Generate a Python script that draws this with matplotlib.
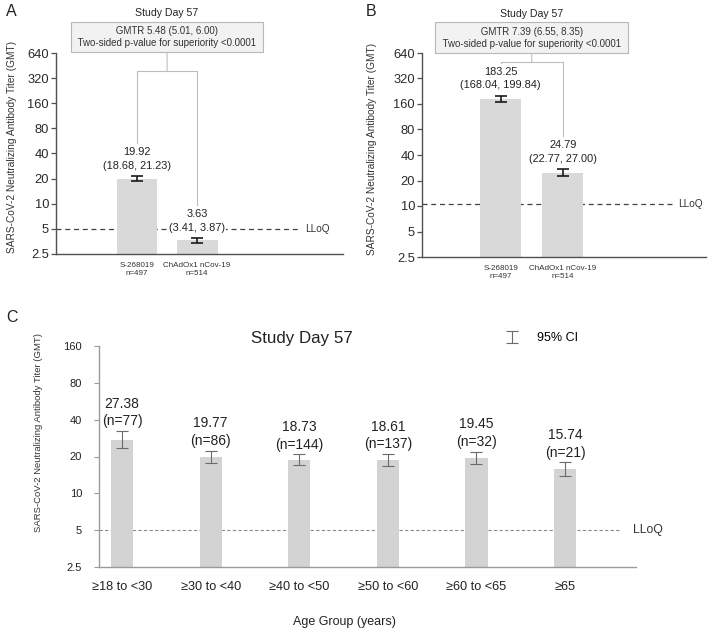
import matplotlib
matplotlib.use('Agg')
import matplotlib.pyplot as plt
from matplotlib.ticker import NullLocator
import numpy as np

plt.rcParams['font.family'] = ['Liberation Sans', 'DejaVu Sans']

###############################################################################
# Data
groups = ['S-268019\nn=497', 'ChAdOx1 nCov-19\nn=514']

# panel A
gmt_a = [19.92, 3.63]
lo_a = [18.68, 3.41]
hi_a = [21.23, 3.87]
gmtr_a = ' GMTR 5.48 (5.01, 6.00) \n Two-sided p-value for superiority <0.0001 '
lloq_a = 5

# panel B
gmt_b = [183.25, 24.79]
lo_b = [168.04, 22.77]
hi_b = [199.84, 27.00]
gmtr_b = ' GMTR 7.39 (6.55, 8.35) \n Two-sided p-value for superiority <0.0001 '
lloq_b = 10.5

# panel C: S-268019 by age group
age_groups = ['≥18 to <30', '≥30 to <40', '≥40 to <50',
              '≥50 to <60', '≥60 to <65', '≥65']
age_n = [77, 86, 144, 137, 32, 21]
gmt_c = [27.38, 19.77, 18.73, 18.61, 19.45, 15.74]
lo_c = [23.3, 17.6, 16.9, 16.6, 17.3, 13.8]
hi_c = [32.2, 22.2, 20.8, 20.9, 21.9, 17.9]
lloq_c = 5

yticks_ab = [2.5, 5, 10, 20, 40, 80, 160, 320, 640]
yticks_c = [2.5, 5, 10, 20, 40, 80, 160]
ylabel = 'SARS-CoV-2 Neutralizing Antibody Titer (GMT)'

W, H = 708, 631
fig = plt.figure(figsize=(W / 100, H / 100), dpi=100)


def px_axes(left, top, right, bottom):
    return fig.add_axes([left / W, 1 - bottom / H, (right - left) / W, (bottom - top) / H])


def log_yaxis(ax, ticks, top):
    ax.set_yscale('log', base=2)
    ax.set_ylim(2.5, top)
    ax.set_yticks(ticks, labels=[f'{t:g}' for t in ticks])
    ax.yaxis.set_minor_locator(NullLocator())
    for s in ['top', 'right']:
        ax.spines[s].set_visible(False)


###############################################################################
# Panels A and B
def comparison_panel(ax, gmt, lo, hi, lloq, gmtr, xlim, width, lloq_end,
                     bracket_y, box_off, title_off, label_coords):
    gmt, lo, hi = map(np.array, (gmt, lo, hi))
    x = np.arange(len(gmt))
    log_yaxis(ax, yticks_ab, 640)
    ax.set_xlim(*xlim)
    ax.bar(x, gmt - 2.5, bottom=2.5, width=width, color='#d9d9d9', zorder=2)
    ax.errorbar(x, gmt, yerr=[gmt - lo, hi - gmt], fmt='none', ecolor='#1a1a1a',
                elinewidth=1.2, capsize=4, capthick=1.2, zorder=3)
    ax.axhline(lloq, xmin=0, xmax=lloq_end, color='#404040', lw=0.9,
               dashes=(4, 3), zorder=1)
    ax.text(lloq_end + 0.013, lloq, 'LLoQ', transform=ax.get_yaxis_transform(),
            ha='left', va='center', fontsize=7.2, color='#333333')
    labels = []
    for xi, g, l, h in zip(x, gmt, lo, hi):
        t = ax.annotate(f'{g:.2f}\n({l:.2f}, {h:.2f})', xy=(xi, h), xytext=(0, 4),
                        textcoords='offset points', ha='center', va='bottom',
                        fontsize=7.9, linespacing=1.45, color='#222222', zorder=4,
                        bbox=dict(fc='white', ec='none', pad=0.5))
        labels.append(t)

    ax.set_xticks(x, labels=groups)
    ax.tick_params(axis='x', length=0, pad=6, labelsize=5.8, colors='#333333')
    ax.tick_params(axis='y', length=3.5, width=0.9, pad=1.5, labelsize=9.3,
                   colors='#2a2a2a', color='#505050')
    for s in ['left', 'bottom']:
        ax.spines[s].set_color('#505050')
        ax.spines[s].set_linewidth(1.0)
    ax.set_ylabel(ylabel, fontsize=7.3, color='#333333')
    ax.yaxis.set_label_coords(*label_coords)

    # bracket legs stop just above the value labels
    fig.canvas.draw()
    r = fig.canvas.get_renderer()
    inv = ax.transData.inverted()
    legs = [inv.transform((0, t.get_window_extent(r).y1 + 4))[1] for t in labels]
    ax.plot([x[0], x[0], x[1], x[1]], [legs[0], bracket_y, bracket_y, legs[1]],
            color='#bdbdbd', lw=0.8, clip_on=False, zorder=1)
    mid = x.mean()
    ax.annotate(gmtr, xy=(mid, bracket_y), xytext=(0, box_off),
                textcoords='offset points', ha='center', va='center',
                fontsize=7.0, linespacing=1.25, color='#333333',
                annotation_clip=False,
                bbox=dict(boxstyle='square,pad=0.45', fc='#f2f2f2', ec='#b8b8b8', lw=0.8),
                arrowprops=dict(arrowstyle='-', color='#bdbdbd', lw=0.8,
                                shrinkA=0, shrinkB=0))
    ax.annotate('Study Day 57', xy=(mid, bracket_y), xytext=(0, title_off),
                textcoords='offset points', ha='center', va='center',
                fontsize=7.6, color='#222222', annotation_clip=False)


ax_a = px_axes(56, 53, 343, 254)
comparison_panel(ax_a, gmt_a, lo_a, hi_a, lloq_a, gmtr_a,
                 xlim=(-1.35, 3.43), width=0.68, lloq_end=0.854,
                 bracket_y=389, box_off=24.5, title_off=41.8,
                 label_coords=(-0.136, 0.53))

ax_b = px_axes(422, 53, 706, 257)
comparison_panel(ax_b, gmt_b, lo_b, hi_b, lloq_b, gmtr_b,
                 xlim=(-1.27, 3.31), width=0.66, lloq_end=0.89,
                 bracket_y=501, box_off=17.6, title_off=34.6,
                 label_coords=(-0.158, 0.53))

###############################################################################
# Panel C
ax_c = px_axes(99, 346, 636, 567)
gmt_c, lo_c, hi_c = map(np.array, (gmt_c, lo_c, hi_c))
xc = np.arange(len(gmt_c))
log_yaxis(ax_c, yticks_c, 160)
ax_c.set_xlim(-0.26, 5.80)
ax_c.bar(xc, gmt_c - 2.5, bottom=2.5, width=0.25, color='#d3d3d3', zorder=2)
ax_c.errorbar(xc, gmt_c, yerr=[gmt_c - lo_c, hi_c - gmt_c], fmt='none',
              ecolor='#6b6b6b', elinewidth=0.8, capsize=4.3, capthick=0.8,
              zorder=3, label='95% CI')
ax_c.axhline(lloq_c, xmin=0, xmax=0.972, color='#8c8c8c', lw=0.8,
             dashes=(3, 2), zorder=1)
ax_c.text(0.994, lloq_c, 'LLoQ', transform=ax_c.get_yaxis_transform(),
          ha='left', va='center', fontsize=8.8, color='#333333', clip_on=False)
for xi, g, n, h in zip(xc, gmt_c, age_n, hi_c):
    ax_c.annotate(f'{g:.2f}\n(n={n})', xy=(xi, h), xytext=(0, 2),
                  textcoords='offset points', ha='center', va='bottom',
                  fontsize=10, linespacing=1.35, color='#222222')
ax_c.set_xticks(xc, labels=age_groups)
ax_c.tick_params(axis='x', length=0, pad=10, labelsize=9.2, colors='#222222')
ax_c.tick_params(axis='y', length=3.6, width=0.8, pad=8.6, labelsize=8,
                 colors='#222222', color='#9a9a9a')
for s in ['left', 'bottom']:
    ax_c.spines[s].set_color('#9a9a9a')
    ax_c.spines[s].set_linewidth(1.0)
ax_c.set_ylabel(ylabel, fontsize=6.8, color='#333333')
ax_c.yaxis.set_label_coords(-0.104, 0.61)
ax_c.legend(loc='center left', bbox_to_anchor=(503 / W, 1 - 338 / H),
            bbox_transform=fig.transFigure, frameon=False, fontsize=9,
            handlelength=1.4, handleheight=0.45, handletextpad=1.3,
            borderpad=0, borderaxespad=0)
fig.text(302 / W, 1 - 338 / H, 'Study Day 57', ha='center', va='center',
         fontsize=12.2, color='#222222')
fig.text(344 / W, 1 - 622 / H, 'Age Group (years)', ha='center', va='center',
         fontsize=9, color='#222222')

###############################################################################
# Panel letters
for lx, ly, letter in [(6, 11, 'A'), (366, 11, 'B'), (6, 317, 'C')]:
    fig.text(lx / W, 1 - ly / H, letter, ha='left', va='center', fontsize=11.5,
             color='#222222')

fig.savefig('out.png', dpi=100)
